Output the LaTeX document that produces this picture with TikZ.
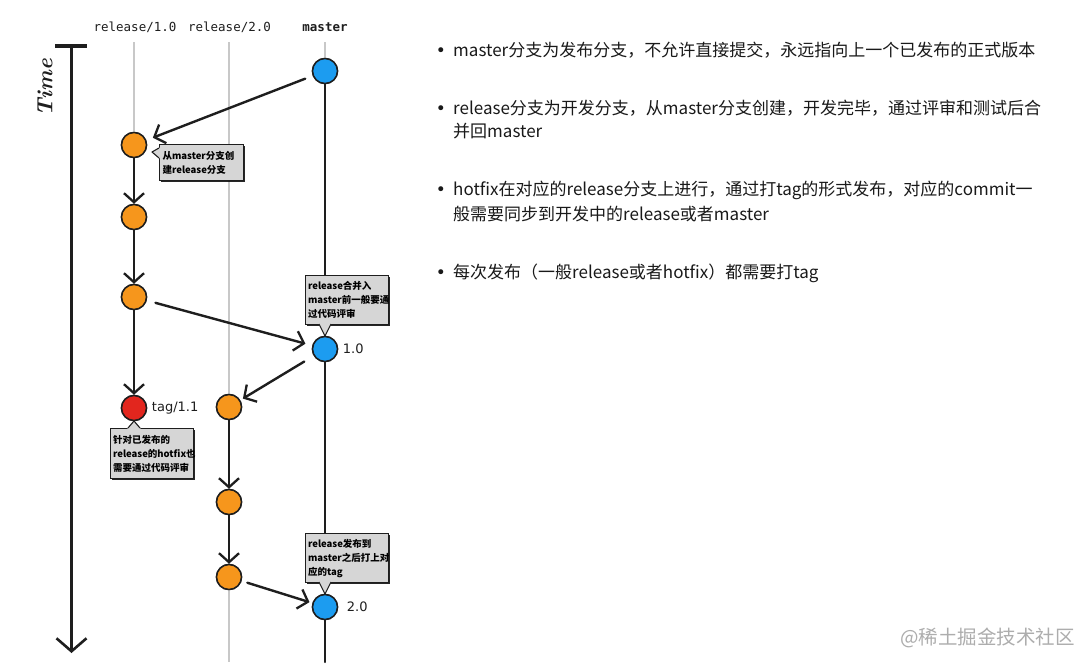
\documentclass[tikz,border=0pt]{standalone}
\usepackage{fontspec}
\usetikzlibrary{arrows.meta,shadows}
\newfontfamily\cjk{Noto Sans CJK SC}
\newfontfamily\dvmono{DejaVu Sans Mono}
\newfontfamily\dvsans{DejaVu Sans}
\definecolor{corange}{RGB}{246,150,28}
\definecolor{cblue}{RGB}{28,156,240}
\definecolor{cred}{RGB}{226,38,30}
\definecolor{cgrayline}{RGB}{200,200,200}
\definecolor{cbox}{RGB}{214,214,214}
\definecolor{cink}{RGB}{30,30,30}
\definecolor{ctext}{RGB}{25,25,25}
\begin{document}
\begin{tikzpicture}[x=1pt,y=-1pt,
  commit/.style={circle, draw=cink, line width=1.5pt, minimum size=25pt, inner sep=0pt},
  gline/.style={draw=cgrayline, line width=2pt},
  dline/.style={draw=cink, line width=2.4pt, line cap=round},
  arr/.style={dline, -{Straight Barb[length=9pt,width=20pt,line width=2.3pt]}},
  callout/.style={draw=cink, line width=1.1pt, fill=cbox, inner sep=2.5pt,
    font=\cjk\bfseries\fontsize{9.5}{14}\selectfont, align=left, anchor=north west,
    text width=78pt, drop shadow={shadow xshift=1.3pt, shadow yshift=-1.3pt, opacity=0.85, fill=black}},
  ptrfill/.style={fill=cbox},
  ptrline/.style={draw=cink, line width=1.1pt, line join=round},
  hdr/.style={font=\dvmono\fontsize{12.5}{14}\selectfont, text=cink, inner sep=0pt},
  lbl/.style={font=\dvsans\fontsize{13}{15}\selectfont, text=cink, inner sep=0pt, anchor=west},
  rtext/.style={font=\cjk\fontsize{17}{24}\selectfont, text=ctext, inner sep=0pt, anchor=base west},
  bul/.style={font=\dvsans\fontsize{17}{18}\selectfont, text=ctext, inner sep=0pt, anchor=base},
]
\useasboundingbox (0,0) rectangle (1080,667);
\fill[white] (0,0) rectangle (1080,667);

% headers
\node[hdr] (h1) at (135,27) {release/1.0};
\node[hdr] (h2) at (229.5,27) {release/2.0};
\node[hdr, font=\dvmono\bfseries\fontsize{12.5}{14}\selectfont] (h3) at (325,27) {master};

% time axis
\node[rotate=90, font=\bfseries\itshape\fontsize{22}{24}\selectfont, text=cink] (time) at (45,88) {Time};
\coordinate (tl) at (55,46);
\coordinate (tr) at (87,46);
\coordinate (ttop) at (71.5,47);
\coordinate (tbot) at (71.5,653);
\draw[cink, line width=3.5pt] (tl) -- (tr);
\draw[cink, line width=3pt, -{Straight Barb[length=13pt,width=30pt,line width=2.6pt]}] (ttop) -- (tbot);

% commits
\node[commit, fill=cblue]   (m1)  at (325,71) {};
\node[commit, fill=corange] (r1a) at (134,145) {};
\node[commit, fill=corange] (r1b) at (134,217) {};
\node[commit, fill=corange] (r1c) at (134,297) {};
\node[commit, fill=cblue]   (m2)  at (325,349) {};
\node[commit, fill=cred]    (rt)  at (134,408) {};
\node[commit, fill=corange] (r2a) at (229,407) {};
\node[commit, fill=corange] (r2b) at (229,502) {};
\node[commit, fill=corange] (r2c) at (229,577) {};
\node[commit, fill=cblue]   (m3)  at (325,607) {};

% branch lines
\coordinate (t1) at (134,42);
\coordinate (t2) at (229,42);
\coordinate (t3) at (325,42);
\coordinate (b2) at (229,662);
\coordinate (b3) at (325,662);
\draw[gline] (t1) -- (r1a.north);
\draw[gline] (t2) -- (r2a.north);
\draw[gline] (r2c.south) -- (b2);
\draw[gline] (t3) -- (m1.north);
\draw[dline, line width=2.2pt] (m1.south) -- (m2.north);
\draw[dline, line width=2.2pt] (m2.south) -- (m3.north);
\draw[dline, line width=2.2pt] (m3.south) -- (b3);

% arrows
\draw[arr] (r1a) -- (r1b);
\draw[arr] (r1b) -- (r1c);
\draw[arr] (r1c) -- (rt);
\draw[arr] (r2a) -- (r2b);
\draw[arr] (r2b) -- (r2c);
\draw[arr, shorten <=8pt, shorten >=7pt] (m1) -- (r1a);
\draw[arr, shorten <=9pt, shorten >=7pt] (r1c) -- (m2);
\draw[arr, shorten <=11pt, shorten >=3pt] (m2) -- (r2a);
\draw[arr, shorten <=6pt, shorten >=3pt] (r2c) -- (m3);

% redraw commits on top
\foreach \n/\c in {m1/cblue,r1a/corange,r1b/corange,r1c/corange,m2/cblue,rt/cred,r2a/corange,r2b/corange,r2c/corange,m3/cblue}
  \draw[fill=\c, draw=cink, line width=1.5pt] (\n.center) circle (12.5pt);

% labels
\node[lbl] (l10) at ([xshift=4.5pt]m2.east) {1.0};
\node[lbl] (l11) at ([xshift=4.5pt]rt.east) {tag/1.1};
\node[lbl] (l20) at ([xshift=8.5pt]m3.east) {2.0};

% callouts
\node[callout, minimum width=84pt, minimum height=36pt] (c1) at (159,144) {从master分支创\\建release分支};
\fill[ptrfill] (159.8,147.6) -- (152,152) -- (159.8,158.4) -- cycle;
\draw[ptrline] (159,148) -- (152,152) -- (159,158);

\node[callout, minimum width=83pt, minimum height=49pt] (c2) at (305,275) {release合并入\\master前一般要通\\过代码评审};
\fill[ptrfill] (318.4,323.2) -- (325,336) -- (331.6,323.2) -- cycle;
\draw[ptrline] (319,324) -- (325,336) -- (331,324);

\node[callout, minimum width=83pt, minimum height=50pt] (c3) at (110,428) {针对已发布的\\release的hotfix也\\需要通过代码评审};
\fill[ptrfill] (127.4,428.8) -- (134,421) -- (140.6,428.8) -- cycle;
\draw[ptrline] (128,428) -- (134,421) -- (140,428);

\node[callout, minimum width=83pt, minimum height=49pt] (c4) at (305,533) {release发布到\\master之后打上对\\应的tag};
\fill[ptrfill] (318.4,581.2) -- (325,594) -- (331.6,581.2) -- cycle;
\draw[ptrline] (319,582) -- (325,594) -- (331,582);

% right-hand text
\node[bul] (d1) at (441,56.5) {•};
\node[rtext] (x1) at (453,56.5) {master分支为发布分支，不允许直接提交，永远指向上一个已发布的正式版本};
\node[bul] (d2) at (441,114.5) {•};
\node[rtext] (x2a) at (453,114.5) {release分支为开发分支，从master分支创建，开发完毕，通过评审和测试后合};
\node[rtext] (x2b) at (453,137.5) {并回master};
\node[bul] (d3) at (441,195.5) {•};
\node[rtext] (x3a) at (453,195.5) {hotfix在对应的release分支上进行，通过打tag的形式发布，对应的commit一};
\node[rtext] (x3b) at (453,220.5) {般需要同步到开发中的release或者master};
\node[bul] (d4) at (441,278.5) {•};
\node[rtext] (x4) at (453,278.5) {每次发布（一般release或者hotfix）都需要打tag};

% watermark
\node[font=\cjk\fontsize{19.5}{22}\selectfont, text=black!32, anchor=west, inner sep=0pt] (wm) at (900,638) {@稀土掘金技术社区};
\end{tikzpicture}
\end{document}
